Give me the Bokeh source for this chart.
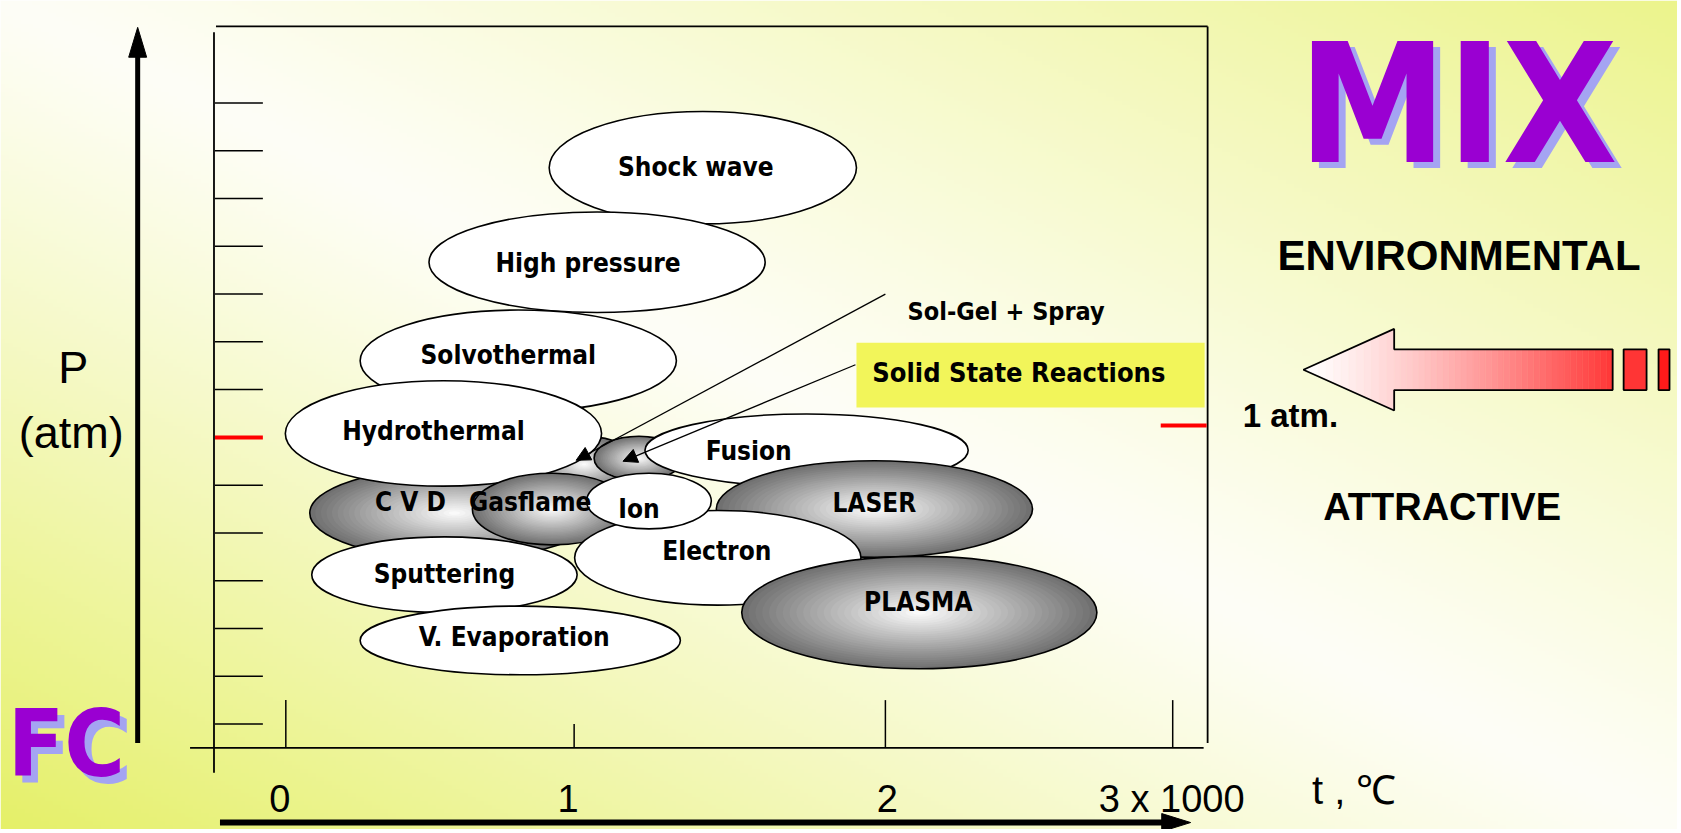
import numpy as np
from bokeh.plotting import figure
from bokeh.models import Range1d, ColumnDataSource, Arrow, NormalHead
from bokeh.core.properties import value
from bokeh.embed import file_html
from bokeh.resources import INLINE

W, H = 1681, 833

# ---------------- data ----------------
region_labels = ["Shock wave", "High pressure", "Solvothermal", "", "C V D", "Hydrothermal", "",
                 "Gasflame", "Fusion", "LASER", "Electron", "Ion", "Sputtering", "V. Evaporation", "PLASMA"]
region_t = [704, 598, 519, 585, 455, 444, 640, 553, 808, 876, 719, 650, 445, 521, 921]
region_p = [168, 263, 362, 466, 515, 435, 460, 511, 452, 511, 560, 503, 577, 643, 615]
region_w = [308, 337, 317, 110, 290, 317, 90, 160, 324, 317, 287, 125, 266, 321, 356]
region_h = [113, 101, 102, 56, 92, 106, 44, 72, 73, 97, 95, 56, 76, 69, 113]
region_shaded = [False, False, False, True, True, False, True, True, False, True, False, False, False, False, True]
label_t = [697, 589, 509, 0, 411, 434, 0, 531, 750, 876, 718, 640, 445, 515, 920]
label_p = [167, 264, 356, 0, 504, 433, 0, 504, 453, 505, 553, 511, 576, 640, 604]

pointer_labels = ["Sol-Gel + Spray", "Solid State  Reactions"]
pointer_from_t = [887, 857]
pointer_from_p = [295, 366]
pointer_to_t = [577, 624]
pointer_to_p = [462, 463]
pointer_label_t = [1008, 1025]
pointer_label_p = [313, 374]

p_ticks = [103, 151, 199, 247, 295, 343, 391, 439, 487, 535, 583, 631, 679, 727]
p_tick_is_1atm = [False] * 7 + [True] + [False] * 6
t_ticks = [286, 575, 887, 1175]
t_tick_top = [703, 727, 703, 703]
t_tick_labels = ["0", "1", "2", "3 x 1000"]
t_tick_label_pos = [280, 569, 889, 1174]


def Y(v):
    return H - np.asarray(v, dtype=float)


p = figure(width=1677, height=829, x_range=Range1d(0, W), y_range=Range1d(0, H),
           output_backend="svg", toolbar_location=None, min_border=0,
           x_axis_type=None, y_axis_type=None)
p.grid.visible = False
p.outline_line_color = None
p.background_fill_color = "white"
p.border_fill_color = "white"

# ---------------- background gradient ----------------
ny, nx = 208, 420
gx = (np.arange(nx) + 0.5) / nx
gy_top = 1 - (np.arange(ny) + 0.5) / ny
s = gx[None, :] - gy_top[:, None]
k = np.clip(np.abs(s), 0, 1) ** 1.15
white = np.array([254, 254, 247], float)
yel_bl = np.array([229, 240, 104], float)
yel_tr = np.array([236, 244, 140], float)
col = np.where((s < 0)[..., None], white + (yel_bl - white) * k[..., None], white + (yel_tr - white) * k[..., None])
img = np.empty((ny, nx), dtype=np.uint32)
view = img.view(dtype=np.uint8).reshape((ny, nx, 4))
view[..., 0] = col[..., 0].astype(np.uint8)
view[..., 1] = col[..., 1].astype(np.uint8)
view[..., 2] = col[..., 2].astype(np.uint8)
view[..., 3] = 255
p.image_rgba(image=[img], x=0, y=0, dw=W, dh=H)

# ---------------- frame & axes ----------------
FRAME = dict(x0=[216, 1210, 214, 190], y0=[26, 26, 32, 751], x1=[1210, 1210, 214, 1206], y1=[26, 746, 776, 751])
p.segment(x0=FRAME["x0"], y0=Y(FRAME["y0"]), x1=FRAME["x1"], y1=Y(FRAME["y1"]), line_color="black",
          line_width=1.8)

TICK_L, TICK_R = 215, 263
p.segment(x0=[TICK_L] * len(p_ticks), y0=Y(p_ticks), x1=[TICK_R] * len(p_ticks), y1=Y(p_ticks),
          line_color=["#ff0000" if r else "black" for r in p_tick_is_1atm],
          line_width=[4 if r else 1.5 for r in p_tick_is_1atm])
# 1 atm. mark on the right edge
p.segment(x0=[1163], y0=Y([427]), x1=[1209], y1=Y([427]), line_color="#ff0000", line_width=4)

AX_BASE = 751
p.segment(x0=t_ticks, y0=Y(t_tick_top), x1=t_ticks, y1=Y([AX_BASE] * len(t_ticks)), line_color="black", line_width=1.5)

# big axis arrows
p.segment(x0=[137.5], y0=Y([746]), x1=[137.5], y1=Y([55]), line_color="black", line_width=5)
p.patch(x=[128.5, 146.5, 137.5], y=Y([57, 57, 27]), fill_color="black", line_color="black")
p.segment(x0=[220], y0=Y([826]), x1=[1168], y1=Y([826]), line_color="black", line_width=6)
p.patch(x=[1164, 1164, 1193], y=Y([817, 835, 826]), fill_color="black", line_color="black")

# yellow box
p.quad(left=[858], right=[1207], top=Y([344]), bottom=Y([409]), fill_color="#f2f55a", line_color=None)

# ---------------- regions (ellipses) ----------------
N = 26
ex, ey, ew, eh, ef, ela = [], [], [], [], [], []
for t, pr, w, h, sh in zip(region_t, region_p, region_w, region_h, region_shaded):
    if sh:
        for i in range(N):
            r = 1 - i / N
            g = int(round(255 - (255 - 112) * r))
            ex.append(t); ey.append(pr); ew.append(w * r); eh.append(h * r)
            ef.append("#%02x%02x%02x" % (g, g, g)); ela.append(1.0 if i == 0 else 0.0)
    else:
        ex.append(t); ey.append(pr); ew.append(w); eh.append(h)
        ef.append("white"); ela.append(1.0)
esrc = ColumnDataSource(dict(x=ex, y=Y(ey), w=ew, h=eh, fill=ef, la=ela))
p.ellipse(x="x", y="y", width="w", height="h", fill_color="fill", line_color="black",
          line_alpha="la", line_width=1.6, source=esrc)

# ---------------- big left arrow with red gradient ----------------
TIP_X, ARW_Y, HEAD_X, END_X = 1306, 371, 1397, 1616
HEAD_HALF, SHAFT_HALF = 41, 20.5
edges = np.concatenate([np.linspace(TIP_X, HEAD_X, 13), np.linspace(HEAD_X, END_X, 37)[1:]])
xs, ys, cols = [], [], []
for a, b in zip(edges[:-1], edges[1:]):
    if b <= HEAD_X:
        ha = (a - TIP_X) / (HEAD_X - TIP_X) * HEAD_HALF
        hb = (b - TIP_X) / (HEAD_X - TIP_X) * HEAD_HALF
    else:
        ha = hb = SHAFT_HALF
    xs.append([a, b, b, a])
    ys.append(list(Y([ARW_Y - ha, ARW_Y - hb, ARW_Y + hb, ARW_Y + ha])))
    tt = ((a + b) / 2 - TIP_X) / (END_X - TIP_X)
    gg = int(round(255 - 200 * tt ** 1.25))
    cols.append("#ff%02x%02x" % (gg, gg))
p.patches(xs=xs, ys=ys, fill_color=cols, line_color=cols, line_width=0.5)
p.patch(x=[TIP_X, HEAD_X, HEAD_X, END_X, END_X, HEAD_X, HEAD_X, TIP_X],
        y=Y([ARW_Y, ARW_Y - HEAD_HALF, ARW_Y - SHAFT_HALF, ARW_Y - SHAFT_HALF,
             ARW_Y + SHAFT_HALF, ARW_Y + SHAFT_HALF, ARW_Y + HEAD_HALF, ARW_Y]),
        fill_alpha=0, line_color="black", line_width=1.8)
p.quad(left=[1627, 1662], right=[1650, 1673], top=Y([350.5, 350.5]), bottom=Y([391.5, 391.5]),
       fill_color=["#ff3535", "#ff1a1a"], line_color="black", line_width=1.8)

# ---------------- texts ----------------
# (font sizes such as 100px/200px are avoided: with a bold weight the SVG font parser rejects them)
NARROW = value("'Liberation Sans Narrow', 'DejaVu Sans Condensed', sans-serif")
ARIAL = value("'Liberation Sans', Arial, sans-serif")

lab_t = [a for a, l in zip(label_t, region_labels) if l]
lab_p = [b for b, l in zip(label_p, region_labels) if l]
lab_s = [l for l in region_labels if l]
p.text(x=lab_t, y=Y(lab_p), text=lab_s,
       text_font=NARROW, text_font_style="bold", text_font_size="26px",
       text_align="center", text_baseline="middle", text_color="black")
p.text(x=pointer_label_t[:1], y=Y(pointer_label_p[:1]), text=pointer_labels[:1],
       text_font=NARROW, text_font_style="bold", text_font_size="25px",
       text_align="center", text_baseline="middle", text_color="black")
p.text(x=pointer_label_t[1:], y=Y(pointer_label_p[1:]), text=pointer_labels[1:],
       text_font=NARROW, text_font_style="bold", text_font_size="27px",
       text_align="center", text_baseline="middle", text_color="black")

p.text(x=[73, 71], y=Y([369, 434]), text=["P", "(atm)"], text_font=ARIAL, text_font_size="45px",
       text_align="center", text_baseline="middle", text_color="black")
p.text(x=t_tick_label_pos, y=Y([802] * 4), text=t_tick_labels, text_font=ARIAL, text_font_size="38px",
       text_align="center", text_baseline="middle", text_color="black")
p.text(x=[1357], y=Y([793]), text=["t , ℃"], text_font=ARIAL, text_font_size="40px",
       text_align="center", text_baseline="middle", text_color="black")

p.text(x=[1462], y=Y([256]), text=["ENVIRONMENTAL"], text_font=ARIAL,
       text_font_style="bold", text_font_size="42px", text_align="center", text_baseline="middle",
       text_color="black")
p.text(x=[1445], y=Y([509]), text=["ATTRACTIVE"], text_font=ARIAL,
       text_font_style="bold", text_font_size="38px", text_align="center", text_baseline="middle",
       text_color="black")
p.text(x=[1293], y=Y([417]), text=["1 atm."], text_font=ARIAL, text_font_style="bold",
       text_font_size="33px", text_align="center", text_baseline="middle", text_color="black")

# WordArt-like titles (shadow + face)
for dx, colr in [(7, "#a4a4f2"), (0, "#9a00d2")]:
    p.text(x=[1461 + dx], y=Y([104 + dx]), text=["MIX"], text_font=NARROW, text_font_style="bold",
           text_font_size="166px", text_align="center", text_baseline="middle", text_color=colr)
    p.text(x=[66 + dx], y=Y([748 + dx]), text=["FC"], text_font=NARROW, text_font_style="bold",
           text_font_size="92px", text_align="center", text_baseline="middle", text_color=colr)

# pointers
psrc = ColumnDataSource(dict(x0=pointer_from_t, y0=Y(pointer_from_p), x1=pointer_to_t, y1=Y(pointer_to_p)))
p.add_layout(Arrow(end=NormalHead(size=14, fill_color="black", line_color="black"),
                   x_start="x0", y_start="y0", x_end="x1", y_end="y1", source=psrc,
                   line_color="black", line_width=1.3))

open("out.html", "w").write(file_html(p, INLINE))
